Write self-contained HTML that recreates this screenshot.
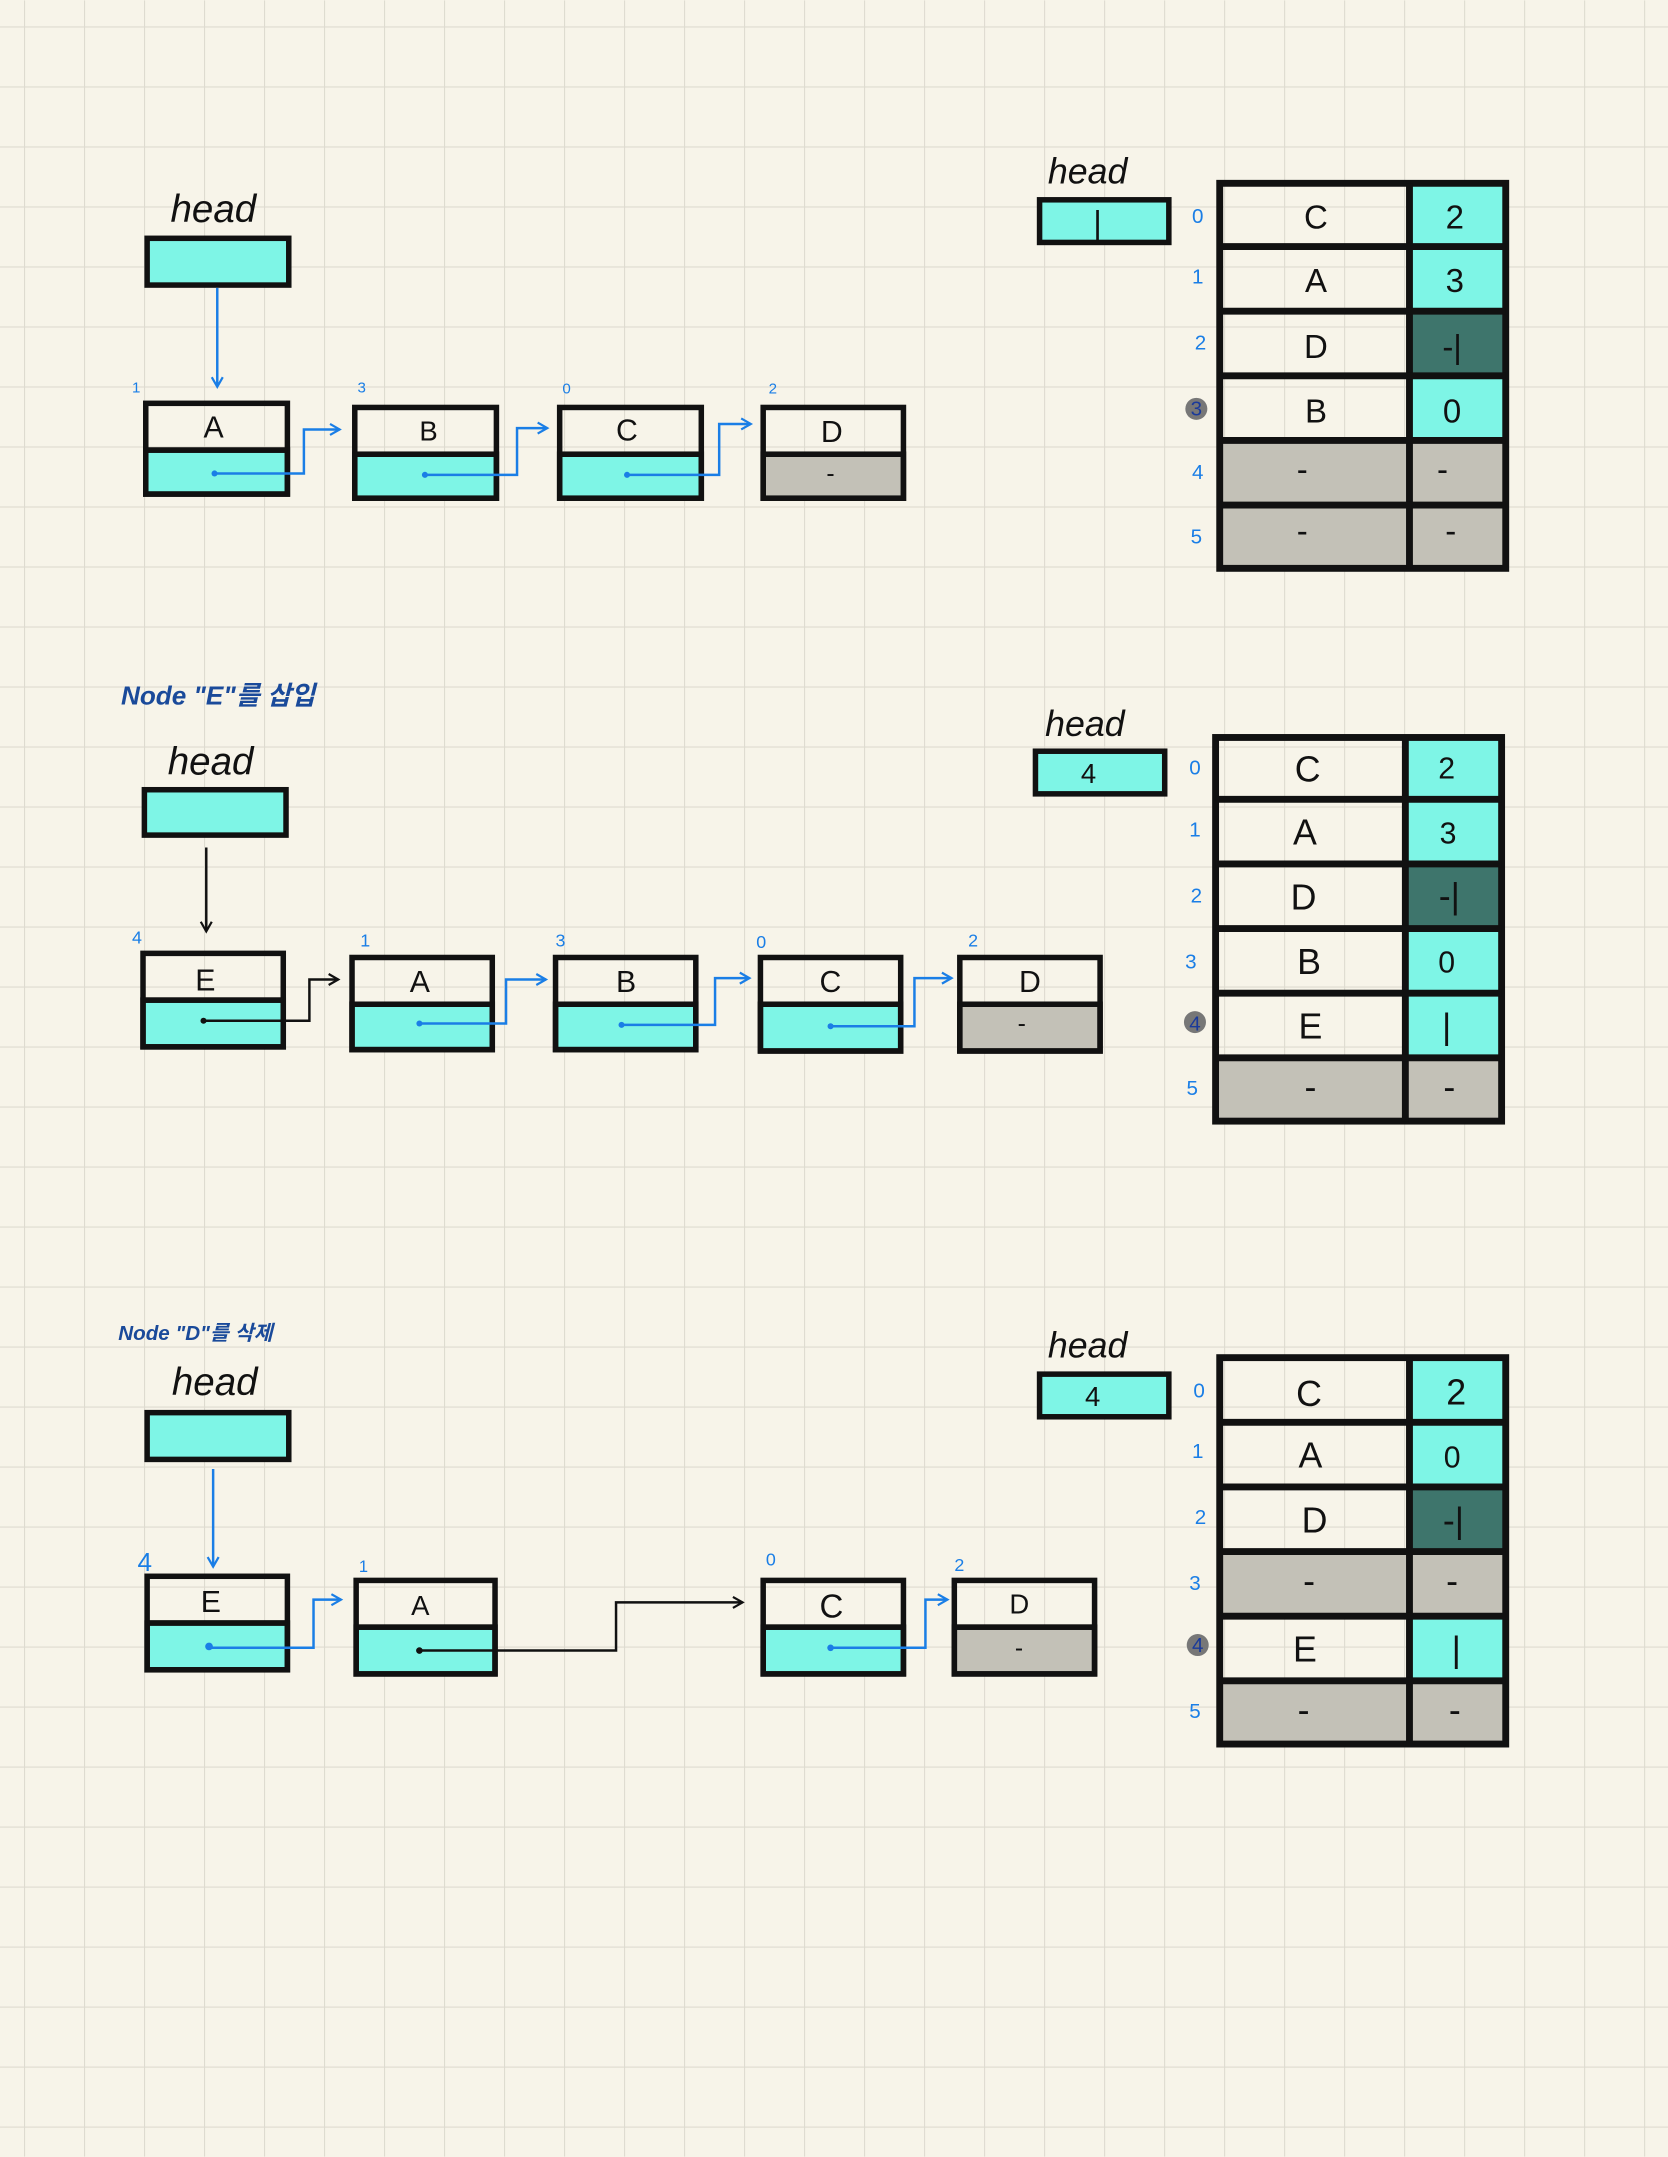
<!DOCTYPE html>
<html><head><meta charset="utf-8"><style>
html,body{margin:0;padding:0;background:#f7f4e9}
svg{display:block}
text{font-family:"Liberation Sans","Noto Sans CJK KR",sans-serif}
</style></head><body>
<svg width="1668" height="2157" viewBox="0 0 1213 1568" xmlns="http://www.w3.org/2000/svg">
<defs>
<pattern id="g" x="17.45" y="18.9" width="43.636" height="43.636" patternUnits="userSpaceOnUse">
<path d="M0 0H43.636M0 0V43.636" stroke="#dedbd0" stroke-width="1.6" fill="none"/>
</pattern>
<marker id="ab" markerWidth="10" markerHeight="10" refX="8" refY="5" orient="auto" markerUnits="userSpaceOnUse"><path d="M1 1L8 5L1 9" fill="none" stroke="#1a7ee6" stroke-width="1.6"/></marker>
<marker id="ak" markerWidth="10" markerHeight="10" refX="8" refY="5" orient="auto" markerUnits="userSpaceOnUse"><path d="M1 1L8 5L1 9" fill="none" stroke="#111" stroke-width="1.6"/></marker>
</defs>
<rect width="1213" height="1568" fill="#f7f4e9"/>
<rect width="1213" height="1568" fill="url(#g)"/>

<g font-size="26" fill="#111">
<!-- ===== Section 1 ===== -->
<text x="124" y="161" font-size="28" font-style="italic">head</text>
<rect x="107" y="173" width="103" height="34" fill="#7ef5e6" stroke="#111" stroke-width="4"/>
<line x1="158" y1="209" x2="158" y2="281" stroke="#1a7ee6" stroke-width="1.8" marker-end="url(#ab)"/>

<g stroke="#111" stroke-width="4">
<rect x="106" y="327" width="103" height="32" fill="#7ef5e6"/><rect x="106" y="293" width="103" height="66" fill="none"/><line x1="106" y1="327" x2="209" y2="327"/>
<rect x="258" y="330" width="103" height="32" fill="#7ef5e6"/><rect x="258" y="296" width="103" height="66" fill="none"/><line x1="258" y1="330" x2="361" y2="330"/>
<rect x="407" y="330" width="103" height="32" fill="#7ef5e6"/><rect x="407" y="296" width="103" height="66" fill="none"/><line x1="407" y1="330" x2="510" y2="330"/>
<rect x="555" y="330" width="102" height="32" fill="#c3c1b7"/><rect x="555" y="296" width="102" height="66" fill="none"/><line x1="555" y1="330" x2="657" y2="330"/>
</g>
<text x="148" y="318" font-size="22">A</text><text x="305" y="320" font-size="20">B</text><text x="448" y="320" font-size="22">C</text><text x="597" y="321" font-size="22">D</text>
<text x="601" y="350" font-size="18">-</text>
<g fill="#1a7ee6" font-size="11"><text x="96" y="285">1</text><text x="260" y="285">3</text><text x="409" y="286">0</text><text x="559" y="286">2</text></g>
<g fill="none" stroke="#1a7ee6" stroke-width="1.8">
<path d="M156 344H221V312H247" marker-end="url(#ab)"/>
<path d="M309 345H376V311H398" marker-end="url(#ab)"/>
<path d="M456 345H523V308H546" marker-end="url(#ab)"/>
</g>
<g fill="#1a7ee6"><circle cx="156" cy="344" r="2.2"/><circle cx="309" cy="345" r="2.2"/><circle cx="456" cy="345" r="2.2"/></g>

<!-- table 1 -->
<text x="762" y="133" font-size="26" font-style="italic">head</text>
<rect x="756" y="145" width="94" height="31" fill="#7ef5e6" stroke="#111" stroke-width="4"/>
<text x="795" y="170" font-size="24">|</text>
<g>
<rect x="1027" y="133" width="68" height="47" fill="#7ef5e6"/>
<rect x="1027" y="180" width="68" height="47" fill="#7ef5e6"/>
<rect x="1027" y="227" width="68" height="47" fill="#3e756c"/>
<rect x="1027" y="274" width="68" height="47" fill="#7ef5e6"/>
<rect x="887" y="321" width="208" height="92" fill="#c3c1b7"/>
</g>
<g stroke="#111" stroke-width="5" fill="none">
<rect x="887" y="133" width="208" height="280"/>
<line x1="1025" y1="133" x2="1025" y2="413"/>
<line x1="887" y1="179" x2="1095" y2="179"/><line x1="887" y1="226" x2="1095" y2="226"/><line x1="887" y1="273" x2="1095" y2="273"/><line x1="887" y1="320" x2="1095" y2="320"/><line x1="887" y1="367" x2="1095" y2="367"/>
</g>
<g font-size="24" text-anchor="middle">
<text x="957" y="166">C</text><text x="957" y="212">A</text><text x="957" y="260">D</text><text x="957" y="307">B</text><text x="947" y="349">-</text><text x="947" y="394">-</text>
<text x="1058" y="166">2</text><text x="1058" y="212">3</text><text x="1056" y="260">-|</text><text x="1056" y="307">0</text><text x="1049" y="349">-</text><text x="1055" y="394">-</text>
</g>
<circle cx="870" cy="297" r="8" fill="#777"/>
<g fill="#1a7ee6" font-size="15" text-anchor="middle"><text x="871" y="162">0</text><text x="871" y="206">1</text><text x="873" y="254">2</text><text x="870" y="302" fill="#1a3a9a">3</text><text x="871" y="348">4</text><text x="870" y="395">5</text></g>

<!-- ===== Section 2 ===== -->
<text x="88" y="512" font-size="19" fill="#1a4a9a" font-style="italic" font-weight="bold">Node "E"를 삽입</text>
<text x="122" y="563" font-size="28" font-style="italic">head</text>
<rect x="105" y="574" width="103" height="33" fill="#7ef5e6" stroke="#111" stroke-width="4"/>
<line x1="150" y1="616" x2="150" y2="677" stroke="#111" stroke-width="1.8" marker-end="url(#ak)"/>

<g stroke="#111" stroke-width="4">
<rect x="104" y="727" width="102" height="34" fill="#7ef5e6"/><rect x="104" y="693" width="102" height="68" fill="none"/><line x1="104" y1="727" x2="206" y2="727"/>
<rect x="256" y="730" width="102" height="33" fill="#7ef5e6"/><rect x="256" y="696" width="102" height="67" fill="none"/><line x1="256" y1="730" x2="358" y2="730"/>
<rect x="404" y="730" width="102" height="33" fill="#7ef5e6"/><rect x="404" y="696" width="102" height="67" fill="none"/><line x1="404" y1="730" x2="506" y2="730"/>
<rect x="553" y="730" width="102" height="34" fill="#7ef5e6"/><rect x="553" y="696" width="102" height="68" fill="none"/><line x1="553" y1="730" x2="655" y2="730"/>
<rect x="698" y="730" width="102" height="34" fill="#c3c1b7"/><rect x="698" y="696" width="102" height="68" fill="none"/><line x1="698" y1="730" x2="800" y2="730"/>
</g>
<text x="142" y="720" font-size="22">E</text><text x="298" y="721" font-size="22">A</text><text x="448" y="721" font-size="22">B</text><text x="596" y="721" font-size="22">C</text><text x="741" y="721" font-size="22">D</text>
<text x="740" y="750" font-size="18">-</text>
<g fill="#1a7ee6" font-size="13"><text x="96" y="686">4</text><text x="262" y="688">1</text><text x="404" y="688">3</text><text x="550" y="689">0</text><text x="704" y="688">2</text></g>
<path d="M148 742H225V712H246" fill="none" stroke="#111" stroke-width="1.8" marker-end="url(#ak)"/>
<circle cx="148" cy="742" r="2.2" fill="#111"/>
<g fill="none" stroke="#1a7ee6" stroke-width="1.8">
<path d="M305 744H368V712H397" marker-end="url(#ab)"/>
<path d="M452 745H520V711H545" marker-end="url(#ab)"/>
<path d="M604 746H665V711H692" marker-end="url(#ab)"/>
</g>
<g fill="#1a7ee6"><circle cx="305" cy="744" r="2.2"/><circle cx="452" cy="745" r="2.2"/><circle cx="604" cy="746" r="2.2"/></g>

<!-- table 2 -->
<text x="760" y="535" font-size="26" font-style="italic">head</text>
<rect x="753" y="546" width="94" height="31" fill="#7ef5e6" stroke="#111" stroke-width="4"/>
<text x="786" y="569" font-size="20">4</text>
<g>
<rect x="1024" y="536" width="68" height="47" fill="#7ef5e6"/>
<rect x="1024" y="583" width="68" height="47" fill="#7ef5e6"/>
<rect x="1024" y="630" width="68" height="47" fill="#3e756c"/>
<rect x="1024" y="677" width="68" height="94" fill="#7ef5e6"/>
<rect x="884" y="771" width="208" height="44" fill="#c3c1b7"/>
</g>
<g stroke="#111" stroke-width="5" fill="none">
<rect x="884" y="536" width="208" height="279"/>
<line x1="1022" y1="536" x2="1022" y2="815"/>
<line x1="884" y1="581" x2="1092" y2="581"/><line x1="884" y1="628" x2="1092" y2="628"/><line x1="884" y1="675" x2="1092" y2="675"/><line x1="884" y1="722" x2="1092" y2="722"/><line x1="884" y1="769" x2="1092" y2="769"/>
</g>
<g font-size="26" text-anchor="middle">
<text x="951" y="568">C</text><text x="949" y="614">A</text><text x="948" y="661">D</text><text x="952" y="708">B</text><text x="953" y="755">E</text><text x="953" y="799">-</text>
<text x="1052" y="566" font-size="22">2</text><text x="1053" y="613" font-size="22">3</text><text x="1054" y="660">-|</text><text x="1052" y="707" font-size="22">0</text><text x="1052" y="755">|</text><text x="1054" y="799">-</text>
</g>
<circle cx="869" cy="743" r="8" fill="#777"/>
<g fill="#1a7ee6" font-size="15" text-anchor="middle"><text x="869" y="563">0</text><text x="869" y="608">1</text><text x="870" y="656">2</text><text x="866" y="704">3</text><text x="869" y="749" fill="#1a3a9a">4</text><text x="867" y="796">5</text></g>

<!-- ===== Section 3 ===== -->
<text x="86" y="974" font-size="15" fill="#1a4a9a" font-style="italic" font-weight="bold">Node "D"를 삭제</text>
<text x="125" y="1014" font-size="28" font-style="italic">head</text>
<rect x="107" y="1027" width="103" height="34" fill="#7ef5e6" stroke="#111" stroke-width="4"/>
<line x1="155" y1="1068" x2="155" y2="1139" stroke="#1a7ee6" stroke-width="1.8" marker-end="url(#ab)"/>

<g stroke="#111" stroke-width="4">
<rect x="107" y="1180" width="102" height="34" fill="#7ef5e6"/><rect x="107" y="1146" width="102" height="68" fill="none"/><line x1="107" y1="1180" x2="209" y2="1180"/>
<rect x="259" y="1183" width="101" height="34" fill="#7ef5e6"/><rect x="259" y="1149" width="101" height="68" fill="none"/><line x1="259" y1="1183" x2="360" y2="1183"/>
<rect x="555" y="1183" width="102" height="34" fill="#7ef5e6"/><rect x="555" y="1149" width="102" height="68" fill="none"/><line x1="555" y1="1183" x2="657" y2="1183"/>
<rect x="694" y="1183" width="102" height="34" fill="#c3c1b7"/><rect x="694" y="1149" width="102" height="68" fill="none"/><line x1="694" y1="1183" x2="796" y2="1183"/>
</g>
<text x="146" y="1172" font-size="22">E</text><text x="299" y="1174" font-size="20">A</text><text x="596" y="1176" font-size="24">C</text><text x="734" y="1173" font-size="20">D</text>
<text x="738" y="1204" font-size="18">-</text>
<g fill="#1a7ee6"><text x="100" y="1142" font-size="19">4</text><text x="261" y="1143" font-size="12">1</text><text x="557" y="1138" font-size="13">0</text><text x="694" y="1142" font-size="13">2</text></g>
<path d="M305 1200H448V1165H540" fill="none" stroke="#111" stroke-width="1.8" marker-end="url(#ak)"/>
<circle cx="305" cy="1200" r="2.4" fill="#111"/>
<g fill="none" stroke="#1a7ee6" stroke-width="1.8">
<path d="M152 1198H228V1163H248" marker-end="url(#ab)"/>
<path d="M604 1198H673V1163H689" marker-end="url(#ab)"/>
</g>
<g fill="#1a7ee6"><circle cx="152" cy="1197" r="2.8"/><circle cx="604" cy="1198" r="2.4"/></g>

<!-- table 3 -->
<text x="762" y="987" font-size="26" font-style="italic">head</text>
<rect x="756" y="999" width="94" height="31" fill="#7ef5e6" stroke="#111" stroke-width="4"/>
<text x="789" y="1022" font-size="20">4</text>
<g>
<rect x="1027" y="987" width="68" height="47" fill="#7ef5e6"/>
<rect x="1027" y="1034" width="68" height="47" fill="#7ef5e6"/>
<rect x="1027" y="1081" width="68" height="47" fill="#3e756c"/>
<rect x="887" y="1128" width="208" height="47" fill="#c3c1b7"/>
<rect x="1027" y="1175" width="68" height="47" fill="#7ef5e6"/>
<rect x="887" y="1222" width="208" height="46" fill="#c3c1b7"/>
</g>
<g stroke="#111" stroke-width="5" fill="none">
<rect x="887" y="987" width="208" height="281"/>
<line x1="1025" y1="987" x2="1025" y2="1268"/>
<line x1="887" y1="1034" x2="1095" y2="1034"/><line x1="887" y1="1081" x2="1095" y2="1081"/><line x1="887" y1="1128" x2="1095" y2="1128"/><line x1="887" y1="1175" x2="1095" y2="1175"/><line x1="887" y1="1222" x2="1095" y2="1222"/>
</g>
<g font-size="26" text-anchor="middle">
<text x="952" y="1022">C</text><text x="953" y="1067">A</text><text x="956" y="1114">D</text><text x="952" y="1158">-</text><text x="949" y="1208">E</text><text x="948" y="1252">-</text>
<text x="1059" y="1021">2</text><text x="1056" y="1067" font-size="22">0</text><text x="1057" y="1114">-|</text><text x="1056" y="1158">-</text><text x="1059" y="1208">|</text><text x="1058" y="1252">-</text>
</g>
<circle cx="871" cy="1196" r="8" fill="#777"/>
<g fill="#1a7ee6" font-size="15" text-anchor="middle"><text x="872" y="1016">0</text><text x="871" y="1060">1</text><text x="873" y="1108">2</text><text x="869" y="1156">3</text><text x="871" y="1201" fill="#1a3a9a">4</text><text x="869" y="1249">5</text></g>
</g>
</svg>
</body></html>
